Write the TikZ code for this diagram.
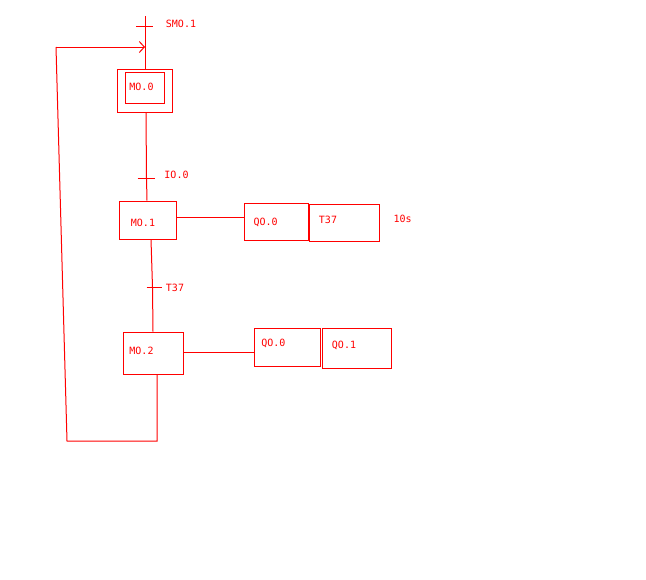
\documentclass[tikz,border=0pt]{standalone}
\usepackage{fontspec}
\usepackage{tikz}
\usetikzlibrary{arrows,arrows.meta,shapes}
\newfontfamily\plcfont{DejaVu Sans Mono}
\tikzstyle{stepbox}=[draw=red,line width=1pt,rectangle,inner sep=0pt]
\tikzstyle{actbox}=[draw=red,line width=1pt,rectangle,inner sep=0pt]
\tikzstyle{txt}=[text=red,inner sep=0pt,font=\plcfont\fontsize{10}{12}\selectfont]
\tikzstyle{wire} = [draw=red,line width=1pt,-]

\begin{document}
\begin{tikzpicture}[x=1pt,y=-1pt]
        \useasboundingbox (0,0) rectangle (646,579);
        % steps
        \node[stepbox,minimum width=55pt,minimum height=43pt] (m0o) at (145,91) {};
        \node[stepbox,minimum width=39pt,minimum height=31pt] (m0i) at (145,88) {};
        \node[stepbox,minimum width=57pt,minimum height=38pt] (m1) at (148,220) {};
        \node[stepbox,minimum width=60pt,minimum height=42pt] (m2) at (153,353) {};
        \node[txt] (l0) at (141.5,87) {MO.0};
        \node[txt] (l1) at (143,223) {MO.1};
        \node[txt] (l2) at (141.5,351) {MO.2};
        % actions
        \node[actbox,minimum width=64pt,minimum height=37pt] (a1) at (276.5,222) {};
        \node[actbox,minimum width=70pt,minimum height=37pt] (a2) at (344.3,223) {};
        \node[actbox,minimum width=66pt,minimum height=38pt] (a3) at (287.3,347) {};
        \node[actbox,minimum width=69pt,minimum height=40pt] (a4) at (356.8,348) {};
        \node[txt] (q1) at (265.7,222) {QO.0};
        \node[txt] (tm) at (328,220) {T37};
        \node[txt] (ts) at (402.7,219) {10s};
        \node[txt] (q2) at (273.3,343) {QO.0};
        \node[txt] (q3) at (344,345) {QO.1};
        % transitions
        \coordinate (top) at (145,16);
        \coordinate (t0) at (145,26);
        \coordinate (t1) at (146.5,178);
        \coordinate (t2) at (152.5,287);
        \node[txt] (c0) at (181,24) {SMO.1};
        \node[txt] (c1) at (176.5,175) {IO.0};
        \node[txt] (c2) at (175,288) {T37};
        \draw[wire] (top) -- (m0o.north);
        \draw[wire] ([xshift=-9pt]t0) -- ([xshift=8pt]t0);
        \draw[wire] ([xshift=1pt]m0o.south) -- (t1) -- ([xshift=-1pt]m1.north);
        \draw[wire] ([xshift=-9pt]t1) -- ([xshift=8pt]t1);
        \draw[wire] ([xshift=3pt]m1.south) -- (t2) -- (m2.north);
        \draw[wire] ([xshift=-6pt]t2) -- ([xshift=9pt]t2);
        \draw[wire] ([yshift=3pt]m1.east) -- ([yshift=3pt]m1.east -| a1.west);
        \draw[wire] ([yshift=1pt]m2.east) -- ([yshift=1pt]m2.east -| a3.west);
        % loop back
        \coordinate (fbr) at (157,441);
        \coordinate (fbb) at (67,441);
        \coordinate (fbl) at (56,47);
        \coordinate (fb) at (145,47);
        \draw[wire] (fbr |- m2.south) -- (fbr) -- (fbb) -- (fbl);
        \draw[wire,-{Straight Barb[length=5pt,width=11pt]}] (fbl) -- (fb);
      \end{tikzpicture}
\end{document}
